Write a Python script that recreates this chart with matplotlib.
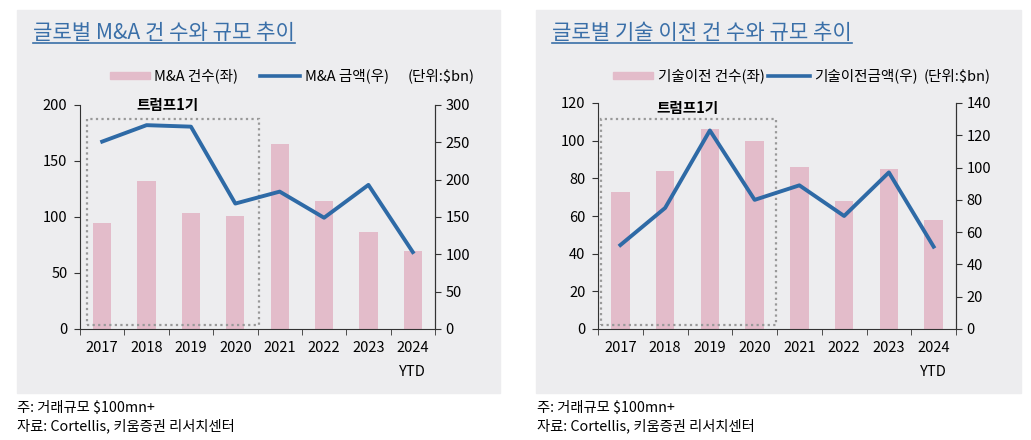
import matplotlib
matplotlib.use("Agg")
import matplotlib.pyplot as plt
from matplotlib.patches import Rectangle
from matplotlib.lines import Line2D

plt.rcParams['font.family'] = ['Noto Sans CJK KR', 'DejaVu Sans']

# -----------------------------------
# Data
# -----------------------------------
years = ["2017", "2018", "2019", "2020", "2021", "2022", "2023", "2024\nYTD"]

mna_count = [95, 132, 104, 101, 165, 114, 87, 70]
mna_value = [251, 273, 271, 168, 184, 149, 193, 103]

tech_count = [73, 84, 106, 100, 86, 68, 85, 58]
tech_value = [52, 75, 123, 80, 89, 70, 97, 51]

BAR_COLOR = "#E3BCCA"
LINE_COLOR = "#2E6AA6"
BG_COLOR = "#EDEDEF"
TITLE_COLOR = "#3A6FA8"
SPINE_COLOR = "#333333"

W, H = 1031, 440
fig = plt.figure(figsize=(W / 100, H / 100), dpi=100)


def fx(px):
    return px / W


def fy(py):
    return 1 - py / H


def panel(x0, x1, title, counts, values,
          ax_box, lmax, lstep, rmax, rstep, box_frac, label_pos):
    # gray background
    fig.patches.append(Rectangle((fx(x0), fy(393)), fx(x1 - x0), (393 - 10) / H,
                                 transform=fig.transFigure, color=BG_COLOR, zorder=-5))
    # title with underline
    t = fig.text(fx(x0 + 16), fy(33), title, fontsize=15.2, color=TITLE_COLOR,
                 va="center", ha="left")
    fig.canvas.draw()
    bb = t.get_window_extent().transformed(fig.transFigure.inverted())
    fig.lines.append(Line2D([bb.x0, bb.x1], [fy(43), fy(43)], transform=fig.transFigure,
                            color=TITLE_COLOR, lw=1.2))

    # axes
    ax_l, ax_t, ax_r, ax_b = ax_box
    ax = fig.add_axes([fx(ax_l), fy(ax_b), fx(ax_r - ax_l), (ax_b - ax_t) / H])
    ax.set_facecolor("none")
    x = range(len(years))
    ax.bar(x, counts, width=0.41, color=BAR_COLOR, zorder=2)
    ax.set_xlim(-0.5, len(years) - 0.5)
    ax.set_ylim(0, lmax)
    ax.set_yticks(range(0, lmax + 1, lstep))
    ax.set_xticks(x)
    ax.set_xticklabels(years, fontsize=10.5, linespacing=1.9, va="top")
    ax.set_xticks([i + 0.5 for i in range(-1, len(years))], minor=True)
    ax.tick_params(axis="x", which="major", length=0, pad=9)
    ax.tick_params(axis="x", which="minor", length=4, direction="out", color=SPINE_COLOR)
    ax.tick_params(axis="y", length=4, direction="out", labelsize=10.5, color=SPINE_COLOR,
                   pad=5)
    for s in ["left", "bottom", "right"]:
        ax.spines[s].set_color(SPINE_COLOR)
    ax.spines["top"].set_visible(False)

    ax2 = ax.twinx()
    ax2.plot(x, values, color=LINE_COLOR, lw=2.8, zorder=3)
    ax2.set_ylim(0, rmax)
    ax2.set_yticks(range(0, rmax + 1, rstep))
    ax2.tick_params(axis="y", length=4, direction="out", labelsize=10.5, color=SPINE_COLOR)
    ax2.spines["right"].set_color(SPINE_COLOR)
    ax2.spines["left"].set_visible(False)
    ax2.spines["top"].set_visible(False)
    ax2.spines["bottom"].set_visible(False)

    # dotted box for Trump 1st term
    bx0, bx1, by0, by1 = box_frac
    ax.add_patch(Rectangle((bx0, by0), bx1 - bx0, by1 - by0, transform=ax.transAxes,
                           fill=False, ls=(0, (1, 1.5)), lw=1.6, ec="#999999", zorder=4))
    ax.text(label_pos[0], label_pos[1], "트럼프1기", transform=ax.transAxes,
            fontsize=10.5, fontweight="bold", ha="center", va="center", zorder=5)
    return ax


panel(17, 500, "글로벌 M&A 건 수와 규모 추이",
      mna_count, mna_value, (80, 105, 435, 329), 200, 50, 300, 50,
      (0.02, 0.504, 0.018, 0.9375), (0.245, 1.0))

panel(536, 1021, "글로벌 기술 이전 건 수와 규모 추이",
      tech_count, tech_value, (598, 103, 956, 329), 120, 20, 140, 20,
      (0.008, 0.497, 0.018, 0.93), (0.25, 0.98))

# -----------------------------------
# Legends (manual)
# -----------------------------------
def legend_row(y, patch_x, t1_x, t1, line_x, t2_x, t2, unit_x):
    fig.patches.append(Rectangle((fx(patch_x[0]), fy(y + 3.5)), fx(patch_x[1] - patch_x[0]),
                                 7 / H, transform=fig.transFigure, color=BAR_COLOR))
    fig.text(fx(t1_x), fy(y), t1, fontsize=10.5, va="center", ha="left")
    fig.lines.append(Line2D([fx(line_x[0]), fx(line_x[1])], [fy(y), fy(y)],
                            transform=fig.transFigure, color=LINE_COLOR, lw=2.6))
    fig.text(fx(t2_x), fy(y), t2, fontsize=10.5, va="center", ha="left")
    fig.text(fx(unit_x), fy(y), "(단위:$bn)", fontsize=10.5, va="center", ha="left")


legend_row(76, (110, 150), 154, "M&A 건수(좌)", (260, 300), 305, "M&A 금액(우)", 408)
legend_row(76, (613, 653), 658, "기술이전 건수(좌)", (768, 810), 814, "기술이전금액(우)", 924)

# -----------------------------------
# Footnotes
# -----------------------------------
for x0 in (17, 537):
    fig.text(fx(x0), fy(408), "주: 거래규모 $100mn+", fontsize=10.3, va="center", ha="left")
    fig.text(fx(x0), fy(426), "자료: Cortellis, 키움증권 리서치센터", fontsize=10.3,
             va="center", ha="left")

fig.savefig("out.png", dpi=100)
